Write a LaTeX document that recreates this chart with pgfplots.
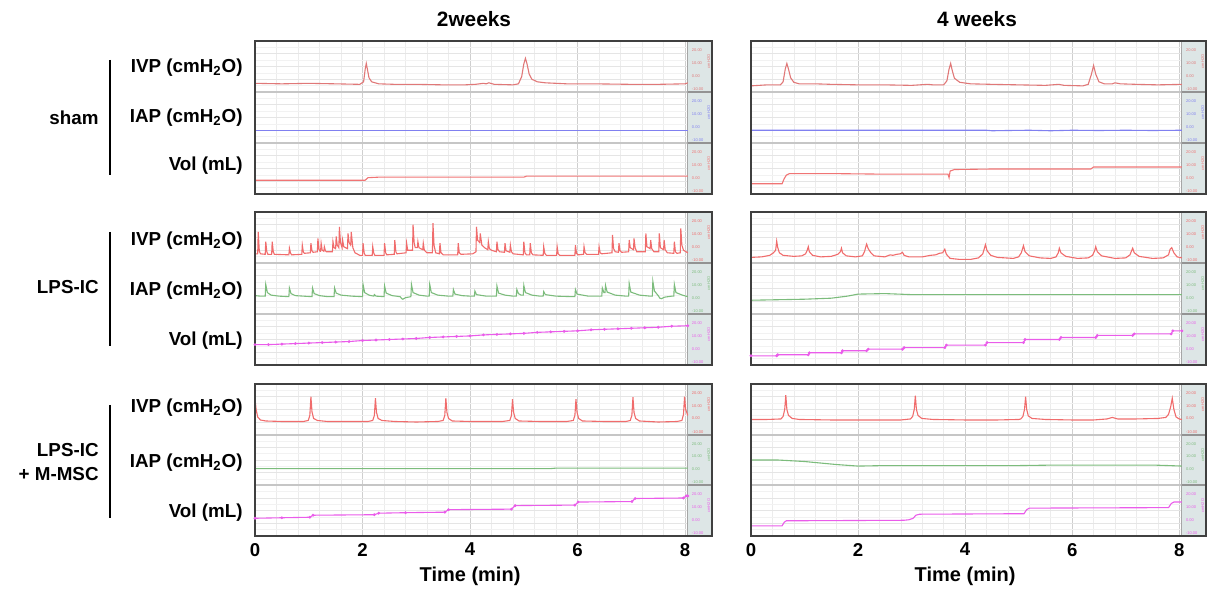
\documentclass[border=0pt]{standalone}
\usepackage{fontspec}
\setmainfont{Liberation Sans}
\usepackage{pgfplots}
\pgfplotsset{compat=1.18}

\definecolor{ivp}{HTML}{F06C6C}
\definecolor{ivpdark}{HTML}{E07878}
\definecolor{iapblue}{HTML}{8080F0}
\definecolor{iapgreen}{HTML}{7CBC7C}
\definecolor{volmag}{HTML}{EA5CEA}
\definecolor{volred}{HTML}{F07474}
\definecolor{sidefill}{HTML}{DDE6E6}

\newcommand{\lab}{\fontsize{9.4}{12}\selectfont\bfseries}
\newcommand{\tinytxt}{\fontsize{2}{2}\selectfont}
\newcommand{\sidestrip}[2]{%
  \node[#2,anchor=west,inner sep=0,font=\tinytxt] at (axis cs:8.12,#1.82) {20.00};
  \node[#2,anchor=west,inner sep=0,font=\tinytxt] at (axis cs:8.12,#1.57) {10.00};
  \node[#2,anchor=west,inner sep=0,font=\tinytxt] at (axis cs:8.12,#1.32) {0.00};
  \node[#2,anchor=west,inner sep=0,font=\tinytxt] at (axis cs:8.12,#1.06) {-10.00};
  \node[#2,rotate=90,inner sep=0,font=\tinytxt] at (axis cs:8.44,#1.6) {cmH2O};
}
\newcommand{\sidebar}[3]{%
  \fill[sidefill] (axis cs:8.05,0) rectangle (axis cs:8.5,3);
  \draw[gray!70,line width=0.5pt] (axis cs:8.05,0) -- (axis cs:8.05,3);
  \draw[gray!85,line width=1pt] (axis cs:8.05,1) -- (axis cs:8.5,1);
  \draw[gray!85,line width=1pt] (axis cs:8.05,2) -- (axis cs:8.5,2);
  \sidestrip{2}{#1}\sidestrip{1}{#2}\sidestrip{0}{#3}%
}
\newcommand{\frameit}{\draw[black!75,line width=1pt] (rel axis cs:0,0) rectangle (rel axis cs:1,1);}

\pgfplotsset{
  panel/.style={
    scale only axis, width=228.5pt, height=76.5pt,
    xmin=0, xmax=8.5, ymin=0, ymax=3, clip=false,
    axis line style={draw=none},
    xtick={0,2,4,6,8}, minor x tick num=4,
    ytick={0,0.25,...,3}, minor y tick num=1,
    xticklabels={}, yticklabels={},
    extra y ticks={1,2}, extra y tick labels={},
    extra y tick style={grid=major, major y grid style={gray!45,line width=0.9pt}},
    grid=both,
    major x grid style={gray!38,line width=0.5pt},
    minor x grid style={gray!15,line width=0.3pt},
    major y grid style={gray!20,line width=0.3pt},
    minor y grid style={gray!10,line width=0.3pt},
    tick style={draw=none},
    every axis plot/.append style={line width=0.55pt, mark=none},
  },
  bottomrow/.style={
    height=76pt,
    xticklabels={0,2,4,6,8},
    /pgf/number format/assume math mode=true,
    tick label style={font=\fontsize{9.3}{10}\selectfont\bfseries},
    xlabel={Time (min)},
    xlabel style={at={(axis description cs:0.4706,0)}, anchor=north, yshift=-12pt,
      font=\fontsize{10}{11}\selectfont\bfseries},
  },
}

\begin{document}
\begin{tikzpicture}
\useasboundingbox (0,0) rectangle (605.5pt,297pt);

% column titles
\node[font=\fontsize{10.4}{12}\selectfont\bfseries] at (237pt,287.5pt) {2weeks};
\node[font=\fontsize{10.4}{12}\selectfont\bfseries] at (488.5pt,287.5pt) {4 weeks};

% row labels
\draw[line width=1.1pt] (55pt,267pt) -- (55pt,209.5pt);
\node[anchor=east,inner sep=0,font=\lab] at (49.5pt,238pt) {sham};
\node[anchor=east,inner sep=0,font=\lab] at (121.5pt,263pt) {IVP (cmH\textsubscript{2}O)};
\node[anchor=east,inner sep=0,font=\lab] at (121.5pt,238pt) {IAP (cmH\textsubscript{2}O)};
\node[anchor=east,inner sep=0,font=\lab] at (121.5pt,214pt) {Vol (mL)};

\draw[line width=1.1pt] (55pt,181pt) -- (55pt,124pt);
\node[anchor=east,inner sep=0,font=\lab] at (49.5pt,153.5pt) {LPS-IC};
\node[anchor=east,inner sep=0,font=\lab] at (121.5pt,176.5pt) {IVP (cmH\textsubscript{2}O)};
\node[anchor=east,inner sep=0,font=\lab] at (121.5pt,151.5pt) {IAP (cmH\textsubscript{2}O)};
\node[anchor=east,inner sep=0,font=\lab] at (121.5pt,126.5pt) {Vol (mL)};

\draw[line width=1.1pt] (55pt,94.5pt) -- (55pt,38pt);
\node[anchor=east,inner sep=0,font=\lab,align=right] at (49.5pt,66pt) {LPS-IC\\+ M-MSC};
\node[anchor=east,inner sep=0,font=\lab] at (121.5pt,93pt) {IVP (cmH\textsubscript{2}O)};
\node[anchor=east,inner sep=0,font=\lab] at (121.5pt,65.5pt) {IAP (cmH\textsubscript{2}O)};
\node[anchor=east,inner sep=0,font=\lab] at (121.5pt,40.5pt) {Vol (mL)};

% ---- sham, 2 weeks
\begin{axis}[panel, at={(127.5pt,276.5pt)}, anchor=north west]
\sidebar{ivpdark}{iapblue}{volred}
\addplot[ivpdark] coordinates {
 (0,2.17) (0.5,2.16) (1.0,2.17) (1.5,2.16) (1.95,2.15) (2.02,2.2) (2.05,2.45)
 (2.07,2.56) (2.09,2.45) (2.12,2.28) (2.17,2.2) (2.3,2.16) (2.6,2.15) (3.0,2.15)
 (3.5,2.14) (3.9,2.14) (4.1,2.15) (4.25,2.17) (4.3,2.16) (4.35,2.18) (4.45,2.15)
 (4.8,2.14) (4.9,2.16) (4.96,2.3) (5.0,2.55) (5.03,2.66) (5.06,2.55) (5.1,2.35)
 (5.15,2.25) (5.25,2.2) (5.4,2.18) (5.8,2.16) (6.3,2.16) (7.0,2.15) (7.5,2.15)
 (8.0,2.16) (8.05,2.18)
};
\addplot[iapblue] coordinates {(0,1.25) (8.05,1.25)};
\addplot[volred] coordinates {
 (0,0.27) (2.05,0.27) (2.1,0.32) (2.3,0.33) (5.0,0.33) (5.05,0.35) (8.05,0.35)
};
\frameit
\end{axis}

% ---- sham, 4 weeks
\begin{axis}[panel, width=227.5pt, at={(375.5pt,276.5pt)}, anchor=north west]
\sidebar{ivpdark}{iapblue}{volred}
\addplot[ivpdark] coordinates {
 (0,2.12) (0.3,2.14) (0.55,2.14) (0.6,2.2) (0.64,2.45) (0.67,2.56) (0.7,2.45)
 (0.74,2.28) (0.8,2.19) (0.9,2.16) (1.2,2.16) (1.5,2.15) (2.0,2.14) (2.5,2.14)
 (3.0,2.13) (3.3,2.15) (3.4,2.14) (3.6,2.14) (3.66,2.22) (3.7,2.45) (3.73,2.56)
 (3.76,2.42) (3.8,2.27) (3.9,2.19) (4.1,2.16) (4.5,2.15) (5.0,2.14) (5.5,2.13)
 (5.75,2.15) (5.85,2.13) (6.2,2.12) (6.3,2.15) (6.36,2.35) (6.4,2.52) (6.44,2.35)
 (6.5,2.2) (6.6,2.16) (6.75,2.16) (6.8,2.18) (6.9,2.16) (7.2,2.15) (7.6,2.14)
 (8.05,2.15)
};
\addplot[iapblue] coordinates {
 (0,1.25) (4.4,1.25) (4.5,1.24) (4.8,1.245) (5.2,1.25) (5.6,1.24) (6.0,1.25)
 (6.5,1.245) (7.0,1.25) (7.5,1.245) (8.05,1.25)
};
\addplot[volred] coordinates {
 (0,0.2) (0.58,0.2) (0.62,0.3) (0.66,0.37) (0.72,0.4) (1.5,0.4) (2.4,0.39)
 (3.0,0.39) (3.68,0.39) (3.7,0.32) (3.72,0.45) (3.8,0.48) (4.5,0.49) (6.35,0.49)
 (6.4,0.53) (8.05,0.53)
};
\frameit
\end{axis}

% ---- LPS-IC, 2 weeks
\begin{axis}[panel, at={(127.5pt,191pt)}, anchor=north west]
\sidebar{ivp}{iapgreen}{volmag}
\addplot[ivp] coordinates {
 (0,2.18) (0.05,2.18) (0.06,2.61) (0.08,2.24) (0.1,2.18)
 (0.19,2.17) (0.20,2.42) (0.22,2.22) (0.24,2.17)
 (0.31,2.17) (0.32,2.42) (0.34,2.22) (0.36,2.17)
 (0.63,2.16) (0.64,2.29) (0.66,2.2) (0.68,2.16)
 (0.87,2.17) (0.88,2.35) (0.9,2.21) (0.92,2.19)
 (1.03,2.2) (1.04,2.39) (1.06,2.24) (1.08,2.21)
 (1.16,2.22) (1.17,2.48) (1.19,2.27) (1.21,2.23)
 (1.22,2.23) (1.23,2.39) (1.25,2.25)
 (1.28,2.23) (1.29,2.32) (1.31,2.24) (1.33,2.22)
 (1.44,2.22) (1.45,2.42) (1.47,2.3)
 (1.5,2.28) (1.51,2.52) (1.53,2.35)
 (1.56,2.3) (1.57,2.71) (1.59,2.4)
 (1.62,2.3) (1.63,2.45) (1.65,2.32)
 (1.72,2.28) (1.73,2.58) (1.75,2.4)
 (1.78,2.35) (1.79,2.61) (1.82,2.3) (1.86,2.2) (1.95,2.15)
 (2.0,2.15) (2.01,2.39) (2.03,2.2) (2.05,2.15)
 (2.18,2.15) (2.19,2.32) (2.21,2.19) (2.23,2.15)
 (2.4,2.15) (2.41,2.39) (2.43,2.2) (2.45,2.16)
 (2.59,2.17) (2.6,2.45) (2.62,2.22) (2.64,2.18)
 (2.81,2.2) (2.82,2.39) (2.84,2.25)
 (2.93,2.25) (2.94,2.75) (2.96,2.4) (2.98,2.3)
 (3.02,2.3) (3.03,2.42) (3.05,2.3)
 (3.12,2.26) (3.13,2.39) (3.15,2.25) (3.2,2.2)
 (3.3,2.2) (3.31,2.78) (3.33,2.35) (3.36,2.2)
 (3.43,2.18) (3.44,2.39) (3.46,2.2) (3.5,2.16)
 (3.77,2.16) (3.78,2.39) (3.8,2.2) (3.83,2.17) (4.05,2.18)
 (4.11,2.22) (4.12,2.71) (4.14,2.45)
 (4.18,2.4) (4.19,2.58) (4.22,2.35) (4.27,2.3)
 (4.33,2.26) (4.34,2.42) (4.36,2.28) (4.4,2.25)
 (4.49,2.22) (4.5,2.42) (4.52,2.26) (4.55,2.22)
 (4.64,2.21) (4.65,2.39) (4.67,2.24)
 (4.74,2.21) (4.75,2.35) (4.77,2.22) (4.8,2.18)
 (4.99,2.16) (5.0,2.42) (5.02,2.2) (5.05,2.16)
 (5.11,2.16) (5.12,2.39) (5.14,2.2) (5.17,2.16)
 (5.36,2.15) (5.37,2.32) (5.39,2.19) (5.42,2.15)
 (5.61,2.15) (5.62,2.32) (5.64,2.18) (5.67,2.15)
 (5.95,2.15) (5.96,2.35) (5.98,2.19) (6.01,2.16)
 (6.11,2.17) (6.12,2.32) (6.14,2.2) (6.17,2.17)
 (6.39,2.17) (6.4,2.32) (6.42,2.2) (6.45,2.18)
 (6.64,2.2) (6.65,2.55) (6.67,2.28) (6.7,2.22)
 (6.76,2.21) (6.77,2.39) (6.79,2.24) (6.82,2.21)
 (6.95,2.22) (6.96,2.45) (6.98,2.3)
 (7.04,2.26) (7.05,2.48) (7.07,2.3) (7.1,2.22)
 (7.26,2.22) (7.27,2.58) (7.29,2.32)
 (7.35,2.28) (7.36,2.45) (7.38,2.28) (7.42,2.22)
 (7.51,2.22) (7.52,2.58) (7.54,2.3)
 (7.6,2.26) (7.61,2.45) (7.63,2.26) (7.67,2.2)
 (7.79,2.19) (7.8,2.42) (7.82,2.22) (7.85,2.19)
 (7.91,2.2) (7.92,2.68) (7.94,2.35) (7.97,2.25) (8.05,2.2)
};
\addplot[iapgreen] coordinates {
 (0,1.36) (0.1,1.35) (0.19,1.35) (0.2,1.58) (0.23,1.42) (0.3,1.37) (0.45,1.35)
 (0.63,1.34) (0.64,1.51) (0.67,1.4) (0.75,1.36) (0.9,1.35)
 (1.06,1.34) (1.07,1.51) (1.1,1.4) (1.2,1.36) (1.35,1.34)
 (1.47,1.34) (1.48,1.51) (1.51,1.41) (1.6,1.37) (1.8,1.35)
 (2.0,1.34) (2.01,1.58) (2.04,1.42) (2.12,1.37)
 (2.21,1.35) (2.22,1.38) (2.25,1.35)
 (2.4,1.34) (2.41,1.55) (2.44,1.41) (2.55,1.36) (2.7,1.34)
 (2.73,1.3) (2.75,1.29) (2.8,1.32) (2.9,1.34)
 (2.91,1.58) (2.94,1.42) (3.05,1.37) (3.2,1.35)
 (3.24,1.35) (3.25,1.58) (3.28,1.42) (3.4,1.37) (3.6,1.35)
 (3.68,1.35) (3.69,1.48) (3.72,1.39) (3.85,1.36) (4.0,1.35)
 (4.08,1.35) (4.09,1.45) (4.12,1.38) (4.3,1.35) (4.45,1.35)
 (4.49,1.35) (4.5,1.55) (4.53,1.41) (4.65,1.37) (4.8,1.35)
 (4.86,1.35) (4.87,1.48) (4.9,1.4) (4.95,1.37)
 (4.99,1.37) (5.0,1.56) (5.03,1.42) (5.15,1.37) (5.3,1.35)
 (5.36,1.35) (5.37,1.44) (5.4,1.38) (5.6,1.35) (5.9,1.34)
 (5.95,1.34) (5.96,1.48) (5.99,1.39) (6.2,1.35) (6.4,1.35)
 (6.45,1.35) (6.46,1.51) (6.49,1.42) (6.51,1.42) (6.52,1.56) (6.55,1.43)
 (6.7,1.37) (6.9,1.35)
 (6.95,1.35) (6.96,1.6) (6.99,1.43) (7.15,1.37) (7.35,1.35)
 (7.39,1.35) (7.4,1.64) (7.43,1.45) (7.5,1.36)
 (7.53,1.31) (7.56,1.3) (7.62,1.33) (7.75,1.35)
 (7.79,1.35) (7.8,1.58) (7.83,1.42) (7.95,1.37) (8.05,1.34)
};
\addplot[volmag, mark=*, mark size=0.4pt] coordinates {
 (0,0.40) (0.25,0.40) (0.5,0.41) (0.75,0.42) (1.0,0.43) (1.25,0.44) (1.5,0.45)
 (1.75,0.46) (2.0,0.48) (2.25,0.49) (2.5,0.50) (2.75,0.51) (3.0,0.52) (3.25,0.54)
 (3.5,0.55) (3.75,0.56) (4.0,0.57) (4.25,0.59) (4.5,0.60) (4.75,0.61) (5.0,0.62)
 (5.25,0.64) (5.5,0.65) (5.75,0.66) (6.0,0.67) (6.25,0.69) (6.5,0.70) (6.75,0.71)
 (7.0,0.72) (7.25,0.73) (7.5,0.74) (7.75,0.76) (8.05,0.77)
};
\frameit
\end{axis}

% ---- LPS-IC, 4 weeks
\begin{axis}[panel, width=227.5pt, at={(375.5pt,191pt)}, anchor=north west]
\sidebar{ivp}{iapgreen}{volmag}
\addplot[ivp] coordinates {
 (0,2.11) (0.2,2.12) (0.35,2.15) (0.42,2.2) (0.46,2.25) (0.48,2.43) (0.5,2.3)
 (0.53,2.2) (0.6,2.15) (0.8,2.13)
 (0.95,2.14) (1.02,2.18) (1.05,2.25) (1.07,2.32) (1.09,2.22) (1.15,2.15) (1.3,2.12)
 (1.5,2.13) (1.62,2.17) (1.67,2.22) (1.69,2.29) (1.71,2.2) (1.78,2.14) (1.95,2.12)
 (2.08,2.14) (2.12,2.22) (2.14,2.3) (2.16,2.37) (2.19,2.28) (2.24,2.2) (2.3,2.14)
 (2.5,2.12) (2.6,2.16) (2.65,2.15) (2.72,2.17) (2.79,2.18) (2.83,2.21) (2.86,2.15)
 (2.95,2.12) (3.2,2.12) (3.35,2.15) (3.45,2.16) (3.52,2.19) (3.58,2.2) (3.62,2.27)
 (3.65,2.17) (3.72,2.09) (3.9,2.07) (4.1,2.07)
 (4.25,2.1) (4.33,2.18) (4.38,2.36) (4.41,2.24) (4.48,2.15) (4.6,2.11) (4.9,2.09)
 (5.0,2.12) (5.05,2.2) (5.09,2.34) (5.12,2.22) (5.2,2.14) (5.4,2.1) (5.6,2.09)
 (5.7,2.12) (5.74,2.2) (5.76,2.29) (5.79,2.2) (5.88,2.13) (6.1,2.09) (6.3,2.1)
 (6.38,2.15) (6.42,2.24) (6.44,2.32) (6.47,2.22) (6.55,2.14) (6.8,2.09) (7.0,2.1)
 (7.08,2.16) (7.11,2.24) (7.13,2.29) (7.16,2.2) (7.25,2.13) (7.5,2.09) (7.7,2.1)
 (7.8,2.16) (7.83,2.27) (7.86,2.3) (7.9,2.2) (7.96,2.12) (8.05,2.1)
};
\addplot[iapgreen] coordinates {
 (0,1.27) (0.5,1.28) (1.0,1.29) (1.5,1.31) (1.8,1.35) (2.0,1.39) (2.5,1.40)
 (3.0,1.38) (4.0,1.38) (5.0,1.38) (6.0,1.38) (7.0,1.38) (8.05,1.38)
};
\addplot[volmag, mark=*, mark size=0.4pt] coordinates {
 (0,0.18) (0.48,0.18) (0.5,0.20) (1.07,0.20) (1.09,0.24) (1.69,0.24) (1.71,0.28)
 (2.16,0.28) (2.19,0.31) (2.83,0.31) (2.86,0.34) (3.62,0.34) (3.65,0.39) (4.38,0.39)
 (4.41,0.44) (5.09,0.44) (5.12,0.50) (5.76,0.50) (5.79,0.54) (6.44,0.54) (6.47,0.58)
 (7.13,0.58) (7.16,0.61) (7.85,0.61) (7.88,0.67) (8.05,0.67)
};
\frameit
\end{axis}

% ---- LPS-IC + M-MSC, 2 weeks
\begin{axis}[panel, bottomrow, at={(127.5pt,105pt)}, anchor=north west]
\sidebar{ivp}{iapgreen}{volmag}
\addplot[ivp] coordinates {
 (0,2.72) (0.02,2.5) (0.05,2.35) (0.1,2.29) (0.2,2.27) (0.5,2.26) (0.9,2.26)
 (0.99,2.28) (1.02,2.38) (1.04,2.75) (1.06,2.45) (1.09,2.32) (1.16,2.28) (1.35,2.26)
 (1.8,2.26) (2.1,2.26)
 (2.19,2.28) (2.22,2.38) (2.24,2.72) (2.26,2.44) (2.29,2.32) (2.36,2.28) (2.6,2.26)
 (3.0,2.25) (3.4,2.26)
 (3.5,2.28) (3.53,2.38) (3.55,2.72) (3.57,2.44) (3.6,2.32) (3.67,2.27) (4.0,2.26)
 (4.6,2.26)
 (4.74,2.28) (4.77,2.38) (4.79,2.70) (4.81,2.44) (4.84,2.32) (4.91,2.27) (5.3,2.26)
 (5.8,2.26)
 (5.92,2.28) (5.95,2.38) (5.97,2.70) (5.99,2.44) (6.02,2.32) (6.09,2.27) (6.5,2.26)
 (6.9,2.26)
 (6.98,2.28) (7.01,2.38) (7.03,2.74) (7.05,2.44) (7.08,2.32) (7.15,2.27) (7.5,2.25)
 (7.85,2.26)
 (7.94,2.28) (7.97,2.4) (7.99,2.75) (8.01,2.5) (8.05,2.38)
};
\addplot[iapgreen] coordinates {(0,1.33) (5.5,1.33) (5.6,1.34) (8.05,1.34)};
\addplot[volmag, mark=*, mark size=0.4pt] coordinates {
 (0,0.35) (0.5,0.36) (1.02,0.37) (1.08,0.41) (2.22,0.42) (2.3,0.45) (2.8,0.46)
 (3.53,0.47) (3.6,0.52) (4.77,0.53) (4.84,0.60) (5.95,0.61) (6.01,0.67) (7.01,0.68)
 (7.07,0.74) (7.97,0.75) (8.02,0.79) (8.05,0.79)
};
\frameit
\end{axis}

% ---- LPS-IC + M-MSC, 4 weeks
\begin{axis}[panel, bottomrow, width=227.5pt, at={(375.5pt,105pt)}, anchor=north west]
\sidebar{ivp}{iapgreen}{volmag}
\addplot[ivp] coordinates {
 (0,2.3) (0.3,2.3) (0.56,2.31) (0.6,2.36) (0.63,2.5) (0.65,2.78) (0.67,2.5)
 (0.7,2.38) (0.77,2.32) (0.9,2.3) (1.5,2.29) (2.2,2.29) (2.8,2.29)
 (2.98,2.31) (3.02,2.36) (3.05,2.5) (3.07,2.77) (3.09,2.5) (3.12,2.38) (3.19,2.32)
 (3.4,2.3) (4.0,2.29) (4.6,2.29) (5.0,2.3)
 (5.04,2.31) (5.08,2.36) (5.11,2.5) (5.13,2.75) (5.15,2.5) (5.18,2.37) (5.25,2.32)
 (5.5,2.3) (6.0,2.29) (6.4,2.29)
 (6.65,2.31) (6.75,2.34) (6.85,2.31) (7.2,2.31) (7.6,2.32) (7.75,2.34) (7.8,2.4)
 (7.84,2.55) (7.87,2.72) (7.9,2.5) (7.94,2.35) (8.0,2.31) (8.05,2.3)
};
\addplot[iapgreen] coordinates {
 (0,1.50) (0.5,1.50) (1.0,1.47) (1.3,1.44) (1.6,1.41) (2.0,1.38) (2.5,1.39)
 (3.0,1.39) (4.0,1.39) (5.0,1.39) (5.7,1.40) (6.5,1.40) (7.5,1.40) (7.8,1.39)
 (8.05,1.38)
};
\addplot[volmag] coordinates {
 (0,0.2) (0.58,0.2) (0.62,0.27) (0.66,0.3) (2.85,0.31) (2.95,0.32) (3.03,0.35)
 (3.08,0.41) (3.15,0.43) (5.1,0.44) (5.15,0.52) (5.2,0.55) (7.8,0.56) (7.85,0.64)
 (7.9,0.67) (8.05,0.67)
};
\frameit
\end{axis}
\end{tikzpicture}
\end{document}
